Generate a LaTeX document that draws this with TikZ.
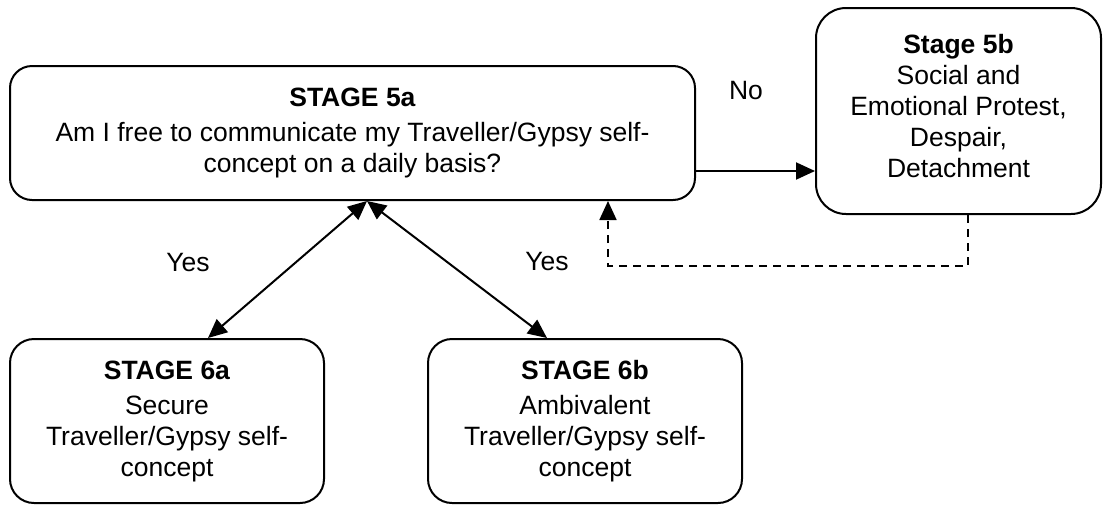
\documentclass[tikz,border=0pt]{standalone}
\usepackage{fontspec}
\setmainfont{Liberation Sans}
\usetikzlibrary{arrows.meta}
\begin{document}
\begin{tikzpicture}[x=1pt,y=-1pt,
  box/.style={draw, line width=2pt, align=center, inner sep=0pt,
    font=\fontsize{26.5}{31}\selectfont},
  lbl/.style={font=\fontsize{26.5}{31}\selectfont, inner sep=0pt},
  arr/.style={line width=2pt, -{Triangle[length=19pt,width=17pt]}},
  darr/.style={line width=2pt, {Triangle[length=19pt,width=17pt]}-{Triangle[length=19pt,width=17pt]}},
  dashline/.style={line width=1.8pt, dash pattern=on 8pt off 6pt, -{Triangle[length=19pt,width=17pt]}}
]
\useasboundingbox (0,0) rectangle (1103,504);
\node[box, rounded corners=22pt, minimum width=685pt, minimum height=134pt] (a5) at (352.5,133)
  {\textbf{STAGE 5a}\\[4pt]Am I free to communicate my Traveller/Gypsy self-\\concept on a daily basis?};
\node[box, rounded corners=30pt, minimum width=285pt, minimum height=206pt] (b5) at (958.5,111)
  {\textbf{Stage 5b}\\Social and\\Emotional Protest,\\Despair,\\Detachment\\[-20pt]};
\node[box, rounded corners=24pt, minimum width=314pt, minimum height=164pt] (a6) at (167,421)
  {\textbf{STAGE 6a}\\[4pt]Secure\\Traveller/Gypsy self-\\concept};
\node[box, rounded corners=24pt, minimum width=314pt, minimum height=164pt] (b6) at (585,421)
  {\textbf{STAGE 6b}\\[4pt]Ambivalent\\Traveller/Gypsy self-\\concept};
\node[lbl] (no) at (746,91) {No};
\node[lbl] (y1) at (188,263) {Yes};
\node[lbl] (y2) at (547,262) {Yes};
\draw[arr] ([yshift=-38pt]a5.east) -- ([yshift=-60pt]b5.west);
\draw[darr] ([xshift=14.5pt]a5.south) -- ([xshift=41pt]a6.north);
\draw[darr] ([xshift=14.5pt]a5.south) -- ([xshift=-38pt]b6.north);
\coordinate (dc) at (608,266);
\draw[dashline] ([xshift=9.5pt]b5.south) |- (dc) -- (dc |- a5.south);
\end{tikzpicture}
\end{document}
